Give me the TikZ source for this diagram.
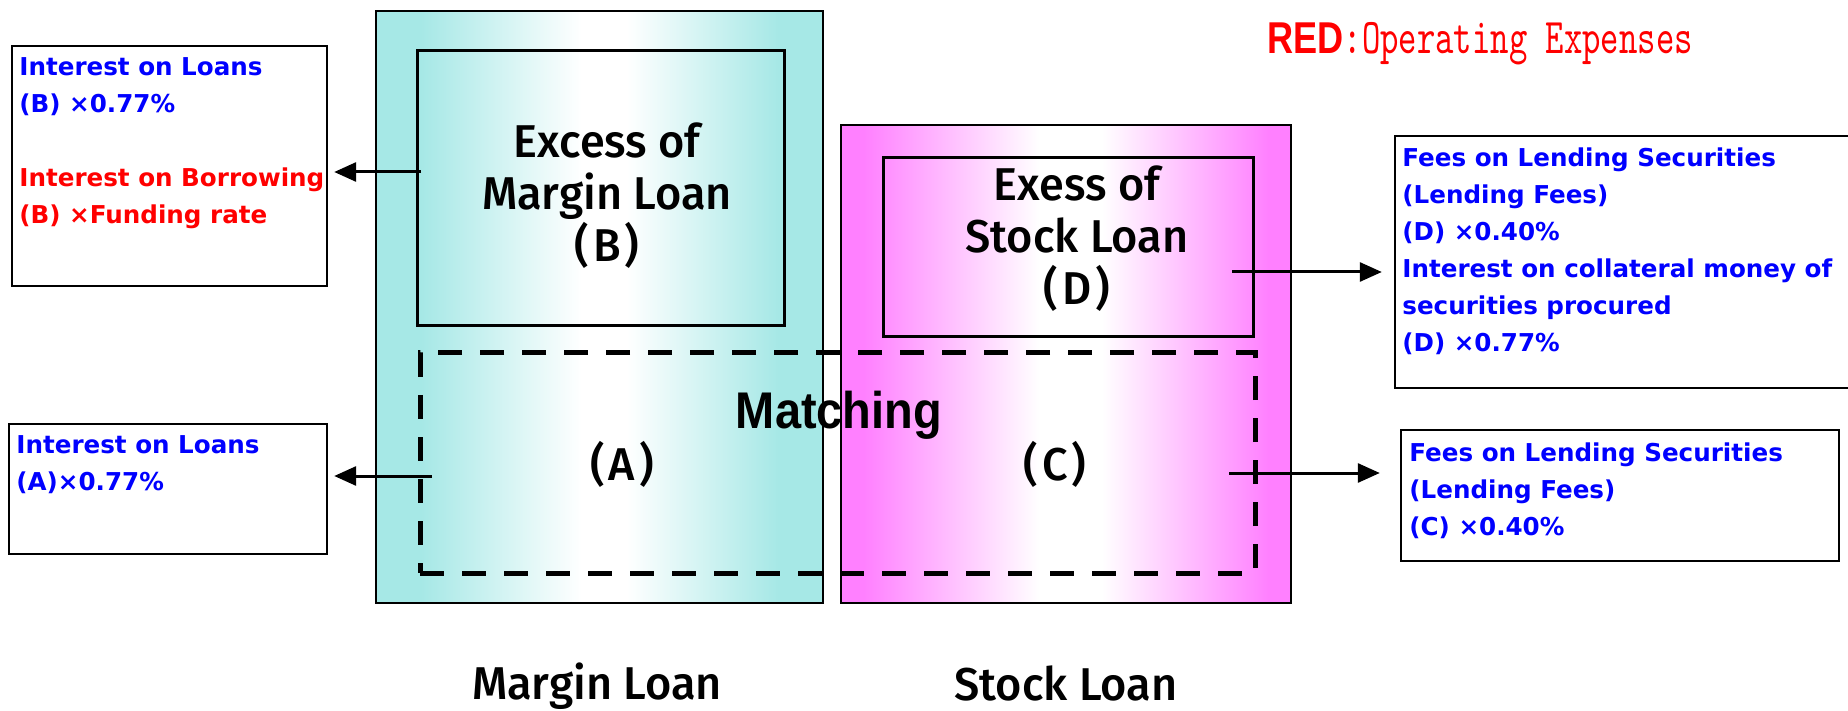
\documentclass[tikz,border=0pt]{standalone}
\usepackage{fontspec}
\setmainfont{DejaVu Sans}
% medium-weight face for the balance labels, if available
\IfFontExistsTF{Fira Sans Medium}
  {\newfontfamily\lab{Fira Sans Medium}[FakeStretch=0.98]\def\labsize{\fontsize{23}{26}\selectfont}}
  {\newfontfamily\lab{Liberation Sans}\def\labsize{\fontsize{22.3}{26}\selectfont}}
\newfontfamily\labbold{Liberation Sans}[FakeStretch=0.91]
\newfontfamily\redf{Liberation Sans}[FakeStretch=0.81]
\newfontfamily\info{DejaVu Sans}
\newfontfamily\mono{lmmono10-regular.otf}[FakeStretch=0.7]
\usetikzlibrary{arrows.meta,fit}

\definecolor{cyanedge}{RGB}{166,232,230}
\definecolor{pinkedge}{RGB}{255,128,255}
\definecolor{infoblue}{RGB}{0,0,255}
\definecolor{infored}{RGB}{255,0,0}

% horizontal fades: coloured edges, white middle (25bp..75bp spans the shape)
\pgfdeclarehorizontalshading{cyanband}{100bp}{color(0bp)=(cyanedge); color(30bp)=(cyanedge); color(48bp)=(white); color(53bp)=(white); color(70bp)=(cyanedge); color(100bp)=(cyanedge)}
\pgfdeclarehorizontalshading{pinkband}{100bp}{color(0bp)=(pinkedge); color(27.5bp)=(pinkedge); color(47bp)=(white); color(54bp)=(white); color(72.5bp)=(pinkedge); color(100bp)=(pinkedge)}

\begin{document}
\begin{tikzpicture}[x=0.5pt,y=-0.5pt,
  panel/.style={draw=black, line width=1.3pt, inner sep=0pt},
  subpanel/.style={draw=black, line width=1.5pt, inner sep=0pt},
  matchbox/.style={draw=black, line width=2.5pt, dash pattern=on 12pt off 9pt, inner sep=0pt},
  infobox/.style={draw=black, line width=1.2pt, fill=white, inner sep=0pt},
  infotext/.style={anchor=north west, inner sep=0pt, align=left, text=infoblue,
    font=\info\bfseries\fontsize{12.3}{18.5}\selectfont},
  biglabel/.style={font=\lab\labsize, align=center, inner sep=0pt},
  link/.style={line width=1.5pt, -{Triangle[length=11pt,width=9.5pt]}},
]
\useasboundingbox (0,0) rectangle (1848,711);

% the two balances
\node[panel, shading=cyanband, fit={(376,11) (823,603)}] (margin) {};
\node[panel, shading=pinkband, fit={(841,125) (1291,603)}] (stock) {};

% excess parts and the matched part
\node[subpanel, fit={(417,51) (784,326)}] (exB) {};
\node[subpanel, fit={(883,158) (1253,337)}] (exD) {};
\node[matchbox, fit={(420,353) (1255,573)}] (matched) {};

% income / expense boxes
\node[infobox, fit={(12,46) (327,286)}] (bl) {};
\node[infobox, fit={(9,424) (327,554)}] (al) {};
\node[infobox, fit={(1395,136) (1854,388)}] (rt) {};
\node[infobox, fit={(1401,430) (1839,561)}] (rb) {};

\node[infotext] (tbl) at (19,57) {Interest on Loans\\(B) ×0.77\%\\[18.5pt]%
  \textcolor{infored}{Interest on Borrowing}\\\textcolor{infored}{(B) ×Funding rate}};
\node[infotext] (tal) at (16,435) {Interest on Loans\\(A)×0.77\%};
\node[infotext] (trt) at (1402,147) {Fees on Lending Securities\\(Lending Fees)\\(D) ×0.40\%\\%
  Interest on collateral money of\\securities procured\\(D) ×0.77\%};
\node[infotext] (trb) at (1409,442) {Fees on Lending Securities\\(Lending Fees)\\(C) ×0.40\%};

% labels inside the balances
\node[biglabel] (lblB) at (607,196) {Excess of\\Margin Loan\\(\kern2pt B\kern2pt)};
\node[biglabel] (lblD) at (1077,239) {Exess of\\Stock Loan\\(\kern2pt D\kern2pt)};
\node[biglabel, anchor=base] (lblA) at (622,480) {(\kern2pt A\kern2pt)};
\node[biglabel, anchor=base] (lblC) at (1055,480) {(\kern2pt C\kern2pt)};
\node[font=\labbold\bfseries\fontsize{25.8}{30}\selectfont, anchor=base, inner sep=0pt] (match) at (839,429) {Matching};
\node[biglabel, anchor=base] (capM) at (597,699) {Margin Loan};
\node[biglabel, anchor=base] (capS) at (1066,700) {Stock Loan};

% legend
\node[anchor=base west, inner sep=0pt, text=infored] (legend) at (1267,54)
  {{\redf\bfseries\fontsize{22.3}{24}\selectfont RED}{\mono\fontsize{25}{28}\selectfont :Operating Expenses}};

% connectors
\coordinate (s1) at (421,172);
\coordinate (s2) at (432,476);
\coordinate (s3) at (1232,272);
\coordinate (s4) at (1229,473);
\draw[link, shorten >=3pt] (s1) -- (s1 -| bl.east);
\draw[link, shorten >=3pt] (s2) -- (s2 -| al.east);
\draw[link, shorten >=6pt] (s3) -- (s3 -| rt.west);
\draw[link, shorten >=10pt] (s4) -- (s4 -| rb.west);
\end{tikzpicture}
\end{document}
